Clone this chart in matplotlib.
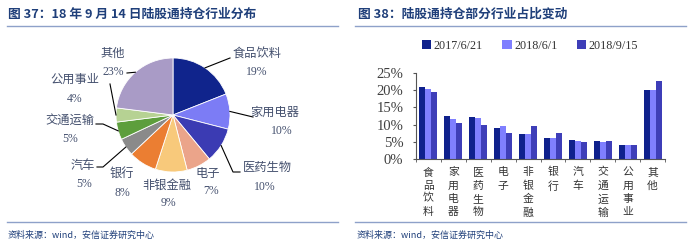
import numpy as np
import matplotlib
matplotlib.use('Agg')
import matplotlib.pyplot as plt

plt.rcParams['font.family'] = ['Noto Sans CJK SC', 'DejaVu Sans']

# 图37 数据
pie_names = ['食品饮料', '家用电器', '医药生物', '电子', '非银金融',
             '银行', '汽车', '交通运输', '公用事业', '其他']
pie_values = [19, 10, 10, 7, 9, 8, 5, 5, 4, 23]
pie_colors = ['#10248C', '#7C7CF5', '#3B3BB3', '#EBA48A', '#F8C97B',
              '#EB7E32', '#8A8A8A', '#5D9E3C', '#B6D293', '#A99BC6']

# 图38 数据
bar_names = ['食品饮料', '家用电器', '医药生物', '电子', '非银金融',
             '银行', '汽车', '交通运输', '公用事业', '其他']
series_names = ['2017/6/21', '2018/6/1', '2018/9/15']
v_20170621 = [20.8, 12.5, 12.3, 8.9, 7.2, 6.0, 5.4, 5.1, 4.1, 20.0]
v_20180601 = [20.4, 11.6, 11.9, 9.5, 7.2, 6.2, 5.3, 5.0, 4.0, 20.1]
v_20180915 = [19.4, 10.6, 9.8, 7.5, 9.5, 7.7, 5.0, 5.1, 4.1, 22.8]
bar_colors = ['#0F218C', '#7F7FFF', '#3E3EB8']

W, H = 700, 244
title_c = '#1F3F7A'
rule_c = '#8EA1C9'
label_c = '#44506E'
serif = 'Liberation Serif'

fig = plt.figure(figsize=(W / 100, H / 100), dpi=100)
base = fig.add_axes([0, 0, 1, 1])


def P(x, y):
    # 像素坐标(左上原点) -> 画布坐标
    return x, H - y


# 饼图
cx, cy, r = 173, 115, 57
base.pie(pie_values, colors=pie_colors, startangle=90, counterclock=False,
         center=P(cx, cy), radius=r,
         wedgeprops=dict(edgecolor='white', linewidth=0.6))
base.set_xlim(0, W)
base.set_ylim(0, H)
base.set_aspect('equal')
base.axis('off')

# 标签位置 (名称中心, 百分比中心) 和引线折点
label_pos = [((257, 54), (257, 72)), ((275, 112), (282, 131)),
             ((267, 167), (265, 187)), ((208, 173), (211, 191)),
             ((167, 185), (168, 203)), ((122, 173), (122, 193)),
             ((83, 166), (84, 184)), ((70, 120), (70, 139)),
             ((75, 79), (75, 99)), ((113, 53), (113, 72))]
leader = [[(230, 58)], [(253, 117)], [(233, 172), (240, 172)], None, None,
          None, [(103, 167), (97, 167)], [(103, 124), (96, 124)],
          [(110, 84)], [(127, 73)]]

total = float(sum(pie_values))
acc = 0
for name, v, (p1, p2), pts in zip(pie_names, pie_values, label_pos, leader):
    mid = np.deg2rad(90 - (acc + v / 2) / total * 360)
    acc += v
    base.text(*P(*p1), name, ha='center', va='center', fontsize=8.8,
              color=label_c)
    base.text(*P(*p2), f'{v}%', ha='center', va='center', fontsize=8.5,
              color=label_c, family=serif)
    if pts:
        ex, ey = cx + r * np.cos(mid), cy - r * np.sin(mid)
        xs = [ex] + [p[0] for p in pts]
        ys = [H - ey] + [H - p[1] for p in pts]
        base.plot(xs, ys, color='black', lw=0.8)

# 标题、分隔线、来源
base.text(*P(8, 14), '图 37：18 年 9 月 14 日陆股通持仓行业分布', fontsize=9.2,
          fontweight='bold', color=title_c, va='center')
base.text(*P(358, 14), '图 38：陆股通持仓部分行业占比变动', fontsize=9.2,
          fontweight='bold', color=title_c, va='center')
for x0, x1 in [(7, 338), (355, 686)]:
    base.plot([x0, x1], [H - 26, H - 26], color=rule_c, lw=1)
    base.plot([x0, x1], [H - 222, H - 222], color=rule_c, lw=1)
for x0 in [8, 357]:
    base.text(*P(x0, 235), '资料来源：wind，安信证券研究中心', fontsize=6.5,
              color=title_c, va='center', style='italic')

# 柱状图
ax = fig.add_axes([416 / W, (H - 159) / H, 249 / W, 86 / H])
x = np.arange(len(bar_names))
bw = 0.24
for i, (vals, c, nm) in enumerate(zip([v_20170621, v_20180601, v_20180915],
                                       bar_colors, series_names)):
    ax.bar(x + (i - 1) * bw, vals, bw, color=c, label=nm)
ax.set_xlim(-0.5, len(bar_names) - 0.5)
ax.set_ylim(0, 25)
ax.set_yticks(np.arange(0, 26, 5))
ax.set_yticklabels([f'{t}%' for t in range(0, 26, 5)], family=serif,
                   fontsize=10.5, color='#404040')
ax.set_xticks(x)
ax.set_xticklabels(['\n'.join(n) for n in bar_names], fontsize=7.8,
                   color='#333333', linespacing=1.4, va='top')
ax.set_xticks(np.arange(-0.5, len(bar_names), 1), minor=True)
ax.tick_params(axis='x', which='major', length=0, pad=6)
ax.tick_params(axis='x', which='minor', length=2.5, direction='out',
               color='#555555')
ax.tick_params(axis='y', length=2, pad=7, color='#555555')
for s in ['top', 'right']:
    ax.spines[s].set_visible(False)
for s in ['left', 'bottom']:
    ax.spines[s].set_color('#555555')
    ax.spines[s].set_linewidth(0.8)

fig.legend(loc='center', bbox_to_anchor=(530 / W, 1 - 46 / H), ncol=3,
           frameon=False, prop={'family': serif, 'size': 8.7},
           handlelength=0.8, handleheight=0.8, handletextpad=0.2,
           columnspacing=1.6, labelcolor='#333333')

fig.savefig('out.png', dpi=100)
